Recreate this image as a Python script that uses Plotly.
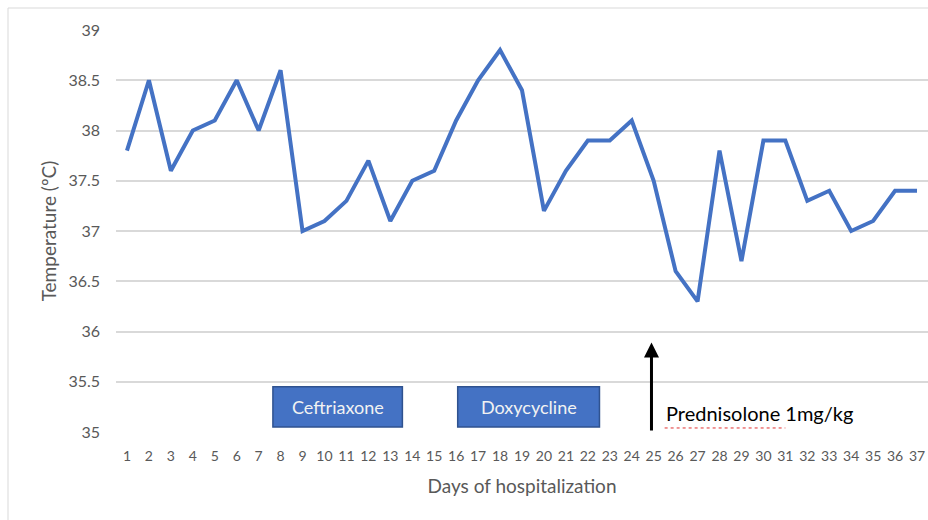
import plotly.graph_objects as go

days = list(range(1, 38))
temperature = [37.8, 38.5, 37.6, 38.0, 38.1, 38.5, 38.0, 38.6, 37.0, 37.1,
               37.3, 37.7, 37.1, 37.5, 37.6, 38.1, 38.5, 38.8, 38.4, 37.2,
               37.6, 37.9, 37.9, 38.1, 37.5, 36.6, 36.3, 37.8, 36.7, 37.9,
               37.9, 37.3, 37.4, 37.0, 37.1, 37.4, 37.4]
y_ticks = [35, 35.5, 36, 36.5, 37, 37.5, 38, 38.5, 39]

# treatment boxes: (label, start day, end day)
treatments = [("Ceftriaxone", 7.65, 13.55), ("Doxycycline", 16.07, 22.53)]
steroid_day = 24.9
steroid_label = "Prednisolone 1mg/kg"

fig = go.Figure()
fig.add_trace(go.Scatter(x=days, y=temperature, mode="lines",
                         line=dict(color="#4472C4", width=4), showlegend=False,
                         hoverinfo="x+y"))

font_main = "Lato, 'Open Sans', sans-serif"

for label, x0, x1 in treatments:
    fig.add_shape(type="rect", x0=x0, x1=x1, y0=35.05, y1=35.45,
                  xref="x", yref="y", fillcolor="#4472C4",
                  line=dict(color="#2F528F", width=1.5), layer="above")
    fig.add_annotation(x=(x0 + x1) / 2, y=35.25, text=label, showarrow=False,
                       font=dict(family=font_main, size=18, color="#F2F2F2"))

# arrow for prednisolone start
fig.add_annotation(x=steroid_day, y=35.89, ax=steroid_day, ay=35.0,
                   xref="x", yref="y", axref="x", ayref="y", text="",
                   showarrow=True, arrowhead=2, arrowsize=1, arrowwidth=3,
                   arrowcolor="#000000")
fig.add_annotation(x=steroid_day + 0.55, y=35.19, text=steroid_label,
                   showarrow=False, xanchor="left", yanchor="middle",
                   font=dict(family=font_main, size=20, color="#000000"))
# spell-check squiggle under "Prednisolone"
fig.add_shape(type="line", x0=steroid_day + 0.6, x1=steroid_day + 6.1,
              y0=35.04, y1=35.04, xref="x", yref="y",
              line=dict(color="#E03030", width=1, dash="dot"))

# chart frame
fig.add_shape(type="rect", xref="paper", yref="paper", x0=-0.133, x1=1.05,
              y0=-0.25, y1=1.0547, line=dict(color="#D9D9D9", width=1),
              fillcolor="rgba(0,0,0,0)", layer="below")

fig.update_layout(
    width=928, height=520,
    margin=dict(l=116, r=0, t=30, b=88),
    paper_bgcolor="white", plot_bgcolor="white",
    font=dict(family=font_main, color="#595959"),
    xaxis=dict(range=[0.5, 37.5], tickmode="array", tickvals=days,
               ticktext=[str(d) for d in days], showgrid=False, zeroline=False,
               showline=False, ticks="", ticklabelstandoff=14,
               tickfont=dict(size=14, color="#595959"),
               title=dict(text="Days of hospitalization", standoff=16,
                          font=dict(size=19, color="#595959"))),
    yaxis=dict(range=[35, 39], tickvals=y_ticks, ticktext=[f"{v:g}" for v in y_ticks],
               showgrid=True, gridcolor="#D9D9D9", gridwidth=1.5, zeroline=False,
               showline=False, ticks="", ticklabelstandoff=15,
               tickfont=dict(size=16, color="#595959"),
               title=dict(text="Temperature (ºC)", standoff=6,
                          font=dict(size=19, color="#595959"))),
)

fig.write_html("out.html", config={"displayModeBar": False},
               post_script="document.body.style.margin='0';document.body.style.overflow='hidden';")
